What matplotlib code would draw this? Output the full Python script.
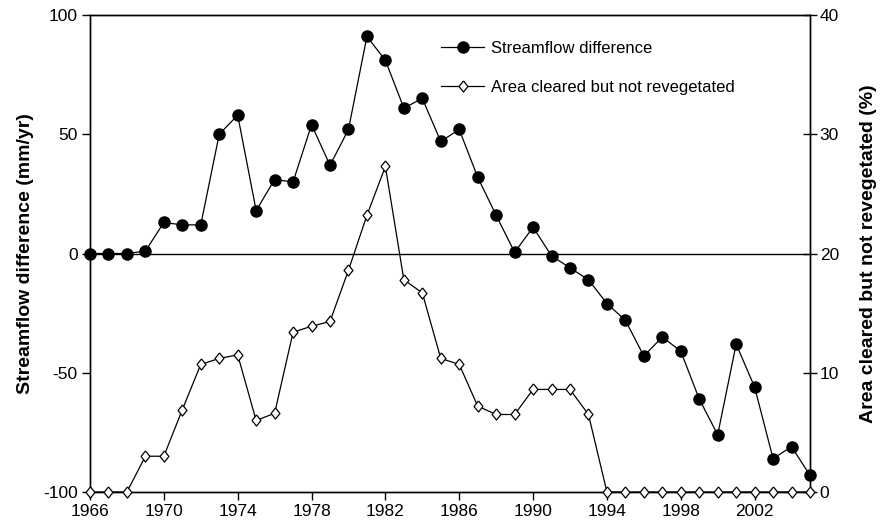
import numpy as np
import matplotlib
matplotlib.use("Agg")
from matplotlib import pyplot as plt
import matplotlib as mpl

mpl.rcParams.update(
    {
        "font.family": ["Liberation Sans", "DejaVu Sans"],
        "axes.linewidth": 1.0,
        "axes.unicode_minus": False,
    }
)

years = list(range(1966, 2006))

streamflow_diff = [
    0, 0, 0, 1, 13, 12, 12, 50, 58, 18,
    31, 30, 54, 37, 52, 91, 81, 61, 65, 47,
    52, 32, 16, 0.5, 11, -1, -6, -11, -21, -28,
    -43, -35, -41, -61, -76, -38, -56, -86, -81, -93,
]

area_cleared = [
    0, 0, 0, 3.0, 3.0, 6.9, 10.7, 11.2, 11.5, 6.0,
    6.6, 13.4, 13.9, 14.3, 18.6, 23.2, 27.3, 17.8, 16.7, 11.2,
    10.7, 7.2, 6.5, 6.5, 8.6, 8.6, 8.6, 6.5, 0, 0,
    0, 0, 0, 0, 0, 0, 0, 0, 0, 0,
]

x_ticks = list(range(1966, 2006, 4))
left_ticks = [-100, -50, 0, 50, 100]
right_ticks = [0, 10, 20, 30, 40]

# slightly narrow open diamond
diamond = [(0, 1), (0.8, 0), (0, -1), (-0.8, 0), (0, 1)]

fig = plt.figure(figsize=(8.8, 5.27), dpi=100)
ax = fig.add_axes([90 / 880, 1 - 492 / 527, 720 / 880, 477 / 527])
ax2 = ax.twinx()

ax.axhline(0, color="black", linewidth=1.0, zorder=1)

(l1,) = ax.plot(
    years, streamflow_diff, color="black", linewidth=0.9,
    marker="o", markersize=8, markerfacecolor="black",
    clip_on=False, zorder=3, label="Streamflow difference",
)
(l2,) = ax2.plot(
    years, area_cleared, color="black", linewidth=0.9,
    marker=diamond, markersize=8, markerfacecolor="white",
    markeredgewidth=0.9, clip_on=False, zorder=3,
    label="Area cleared but not revegetated",
)

ax.set_xlim(1966, 2005)
ax.set_ylim(-100, 100)
ax2.set_ylim(0, 40)

ax.set_xticks(x_ticks)
ax.set_yticks(left_ticks)
ax2.set_yticks(right_ticks)

ax.tick_params(axis="x", direction="out", length=6, width=1, labelsize=12.5, pad=3)
ax.tick_params(axis="y", direction="out", length=6, width=1, labelsize=12.5, pad=3)
ax2.tick_params(axis="y", direction="inout", length=10, width=1, labelsize=12.5, pad=2)

ax.set_ylabel("Streamflow difference (mm/yr)", fontsize=14, fontweight="bold", labelpad=6)
ax2.set_ylabel("Area cleared but not revegetated (%)", fontsize=14, fontweight="bold", labelpad=15)

ax.legend(
    handles=[l1, l2],
    loc="upper left",
    bbox_to_anchor=(336 / 720, 0.977),
    frameon=False,
    fontsize=12,
    handlelength=2.6,
    handletextpad=0.4,
    labelspacing=1.45,
)

fig.savefig("out.png", dpi=100)
